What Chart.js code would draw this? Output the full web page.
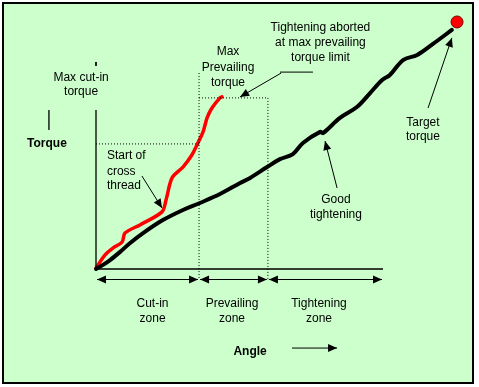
<!DOCTYPE html>
<html><head><meta charset="utf-8">
<script src="https://cdn.jsdelivr.net/npm/chart.js@4/dist/chart.umd.min.js"></script>
<style>html,body{margin:0;padding:0;background:#fff;}canvas{display:block;}</style>
</head><body>
<canvas id="c" width="479" height="387" style="width:479px;height:387px"></canvas>
<script>
// ---- data (angle / torque, arbitrary units; axis length = 100) ----
const goodAngle  = [0, 2.4, 4.9, 8.4, 11.9, 16.4, 23.3, 30.3, 36.2, 43.2, 50.2, 53.7, 59.6, 64.1, 68.6, 72.1, 78.1, 79.1, 85.0, 90.9, 95.5, 99.7, 102.4, 107.0, 111.9, 117.4, 124.0];
const goodTorque = [0, 1.7, 3.7, 7.1, 10.8, 14.9, 20.3, 24.5, 27.4, 31.1, 35.7, 37.8, 42.3, 45.6, 47.7, 52.3, 56.9, 56.4, 62.7, 67.2, 73.0, 78.4, 80.5, 86.7, 88.8, 93.4, 99.2];
const crossAngle  = [0, 3.1, 5.9, 9.1, 10.1, 15.3, 23.0, 24.4, 26.5, 30.3, 33.4, 35.5, 37.3, 38.7, 40.4, 43.2, 43.9];
const crossTorque = [0.4, 5.8, 8.7, 11.2, 14.9, 18.3, 23.7, 28.6, 37.8, 42.3, 47.3, 52.3, 56.9, 62.7, 66.8, 71.0, 71.4];
const targetAngle = [125.8];
const targetTorque = [102.5];
const maxCutInTorque = 51.9;
const maxPrevailingTorque = 71.0;
const zoneBounds = [0, 35.9, 59.9, 100];
const zoneLabels = [["Cut-in", "zone"], ["Prevailing", "zone"], ["Tightening", "zone"]];
const axisTitleX = "Angle";
const axisTitleY = "Torque";

// ---- layout (in data units) ----
const X_MIN = -33.45, X_MAX = 133.45, Y_MIN = -48.96, Y_MAX = 111.62;
const zoneArrowY = -4.15;
const zoneLabelX = [19.7, 47.4, 77.7];
const zoneLabelY = [-14.5, -20.8];
const notes = [
  {lines: ["Max cut-in", "torque"], x: -5.2, y: [79.3, 73.4], align: "center"},
  {lines: ["Max", "Prevailing", "torque"], x: 46.0, y: [90.0, 83.4, 77.2], align: "center"},
  {lines: ["Tightening aborted", "at max prevailing", "torque limit"], x: 78.2, y: [100.0, 93.8, 87.6], align: "center"},
  {lines: ["Start of", "cross", "thread"], x: 3.8, y: [46.9, 40.3, 34.4], align: "left"},
  {lines: ["Good", "tightening"], x: 83.6, y: [28.6, 22.4], align: "center"},
  {lines: ["Target", "torque"], x: 113.9, y: [60.6, 54.8], align: "center"}
];
const pointers = [
  {from: [64.5, 81.3], to: [50.2, 71.4]},
  {from: [16.0, 38.6], to: [23.0, 25.3]},
  {from: [84.0, 33.6], to: [79.8, 53.1]},
  {from: [115.7, 66.8], to: [124.0, 95.9]},
  {from: [68.3, -32.8], to: [84.0, -32.8]}
];

const pts = (xs, ys) => xs.map((x, i) => ({x: x, y: ys[i]}));
const line = (data, color, width, dash) => ({
  data: data, showLine: true, borderColor: color, borderWidth: width, borderDash: dash || [],
  pointRadius: 0, tension: 0, clip: false, fill: false
});

const datasets = [
  // axes
  line([{x: 0, y: 66.0}, {x: 0, y: 0}, {x: 100, y: 0}], "#000", 1.3),
  line([{x: 0, y: 85.9}, {x: 0, y: 84.3}], "#000", 1),
  line([{x: -16.4, y: 66.0}, {x: -16.4, y: 57.7}], "#000", 1.3),
  // dotted guides
  line([{x: 0, y: maxCutInTorque}, {x: zoneBounds[1], y: maxCutInTorque}], "#000", 1, [1, 2]),
  line([{x: zoneBounds[1], y: 81.3}, {x: zoneBounds[1], y: zoneArrowY}], "#000", 1, [1, 2]),
  line([{x: zoneBounds[1], y: maxPrevailingTorque}, {x: zoneBounds[2], y: maxPrevailingTorque}], "#000", 1, [1, 2]),
  line([{x: zoneBounds[2], y: maxPrevailingTorque}, {x: zoneBounds[2], y: zoneArrowY}], "#000", 1, [1, 2]),
  // underline of aborted note
  line([{x: 64.1, y: 81.7}, {x: 75.6, y: 81.7}], "#000", 1),
  // curves
  Object.assign(line(pts(goodAngle, goodTorque), "#000", 4), {tension: 0.35, borderCapStyle: "round", borderJoinStyle: "round"}),
  Object.assign(line(pts(crossAngle, crossTorque), "#FF0000", 3.5), {tension: 0.3, borderCapStyle: "round", borderJoinStyle: "round"}),
  {data: pts(targetAngle, targetTorque), pointRadius: 6, pointBackgroundColor: "#FF0000", pointBorderColor: "#7a0000", pointBorderWidth: 1, clip: false, showLine: false}
];

function head(ctx, x1, y1, x2, y2, len, hw) {
  const a = Math.atan2(y2 - y1, x2 - x1);
  ctx.beginPath();
  ctx.moveTo(x2, y2);
  ctx.lineTo(x2 - len * Math.cos(a) + hw * Math.sin(a), y2 - len * Math.sin(a) - hw * Math.cos(a));
  ctx.lineTo(x2 - len * Math.cos(a) - hw * Math.sin(a), y2 - len * Math.sin(a) + hw * Math.cos(a));
  ctx.closePath();
  ctx.fill();
}

const deco = {
  id: "deco",
  beforeDraw(chart) {
    const c = chart.ctx;
    c.save();
    c.fillStyle = "#fff"; c.fillRect(0, 0, chart.width, chart.height);
    c.fillStyle = "#CCFFCC"; c.fillRect(3, 3, 470, 380);
    c.restore();
  },
  afterDatasetsDraw(chart) {
    const c = chart.ctx, sx = chart.scales.x, sy = chart.scales.y;
    const X = v => sx.getPixelForValue(v), Y = v => sy.getPixelForValue(v);
    c.save();
    c.fillStyle = "#000"; c.strokeStyle = "#000"; c.lineWidth = 1;
    // zone double arrows
    const ay = Math.round(Y(zoneArrowY)) + 0.5;
    for (let i = 0; i < zoneBounds.length - 1; i++) {
      const x1 = X(zoneBounds[i]) + 1, x2 = X(zoneBounds[i + 1]) - 1;
      c.beginPath(); c.moveTo(x1, ay); c.lineTo(x2, ay); c.stroke();
      head(c, x2, ay, x1, ay, 9, 4);
      head(c, x1, ay, x2, ay, 9, 4);
    }
    // pointers
    pointers.forEach(p => {
      const x1 = X(p.from[0]), y1 = Y(p.from[1]), x2 = X(p.to[0]), y2 = Y(p.to[1]);
      c.beginPath(); c.moveTo(x1, y1); c.lineTo(x2, y2); c.stroke();
      head(c, x1, y1, x2, y2, 9, 4);
    });
    // texts
    c.textBaseline = "middle";
    c.font = "12px 'Liberation Sans', Arial, sans-serif";
    notes.forEach(n => {
      c.textAlign = n.align;
      n.lines.forEach((t, i) => c.fillText(t, X(n.x), Y(n.y[i])));
    });
    c.textAlign = "center";
    zoneLabels.forEach((l, i) => l.forEach((t, j) => c.fillText(t, X(zoneLabelX[i]), Y(zoneLabelY[j]))));
    c.font = "bold 12px 'Liberation Sans', Arial, sans-serif";
    c.fillText(axisTitleY, X(-17.1), Y(51.9));
    c.fillText(axisTitleX, X(53.7), Y(-34.4));
    c.restore();
  },
  afterDraw(chart) {
    const c = chart.ctx;
    c.save(); c.strokeStyle = "#000"; c.lineWidth = 2;
    c.strokeRect(3, 3, 470, 380);
    c.restore();
  }
};

new Chart(document.getElementById("c"), {
  type: "scatter",
  data: {datasets: datasets},
  options: {
    responsive: false, animation: false, devicePixelRatio: 1,
    layout: {padding: 0, autoPadding: false},
    plugins: {legend: {display: false}, tooltip: {enabled: false}},
    scales: {
      x: {type: "linear", display: false, min: X_MIN, max: X_MAX},
      y: {type: "linear", display: false, min: Y_MIN, max: Y_MAX}
    }
  },
  plugins: [deco]
});
</script>
</body></html>
